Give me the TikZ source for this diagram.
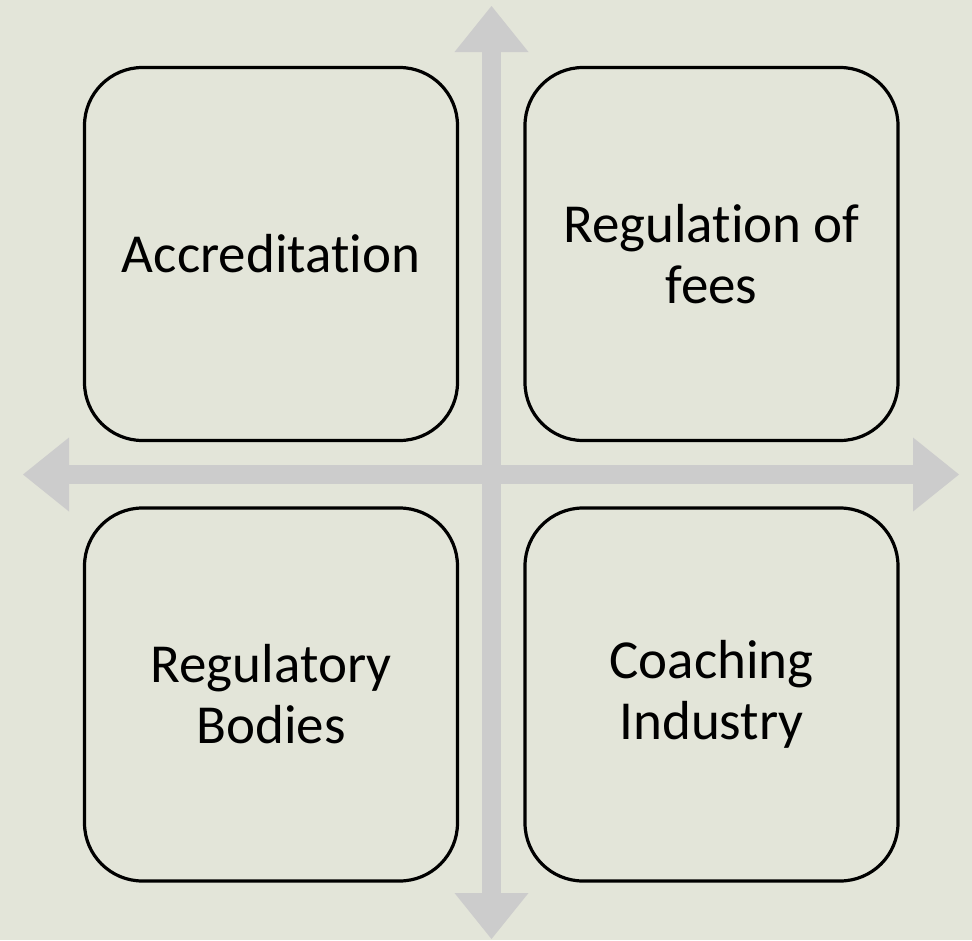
\documentclass[tikz,border=0pt]{standalone}
\usepackage{fontspec}
\setmainfont{Carlito}[Ligatures={NoCommon, NoContextual}]
\usepackage{tikz}
\usetikzlibrary{arrows.meta}
\definecolor{bgpaper}{RGB}{227,229,217}
\definecolor{axisgray}{RGB}{204,204,204}
\tikzset{%
	every quadrant/.style={
		draw,
		line width=3.2pt,
		rounded corners=58pt,
		minimum width=373pt,
		minimum height=373pt,
		align=center,
		font=\fontsize{55}{61}\selectfont
	},
	axis arrow/.style={
		draw=axisgray,
		line width=18.5pt
	},
}

\begin{document}
\begin{tikzpicture}[x=1pt, y=-1pt, >={Triangle[length=46pt, width=74pt, line width=0pt]}]

	\fill [bgpaper] (0,0) rectangle (972,940);
	\useasboundingbox (0,0) rectangle (972,940);

	% ends of the two axes
	\coordinate (axis-top) at (491.5,6);
	\coordinate (axis-bottom) at (491.5,939);
	\coordinate (axis-left) at (23,474.5);
	\coordinate (axis-right) at (959,474.5);

	\draw [axis arrow, <->] (axis-top) -- (axis-bottom);
	\draw [axis arrow, <->] (axis-left) -- (axis-right);

	\foreach \x/\y/\l [count=\i] in {271/254/Accreditation, 711.5/254/{Regulation of\\fees}, 271/694.5/{Regulatory\\Bodies}, 711.5/694.5/{Coaching\\Industry}}
	\node [every quadrant] (box-\i) at (\x,\y) {\l};

\end{tikzpicture}
\end{document}
